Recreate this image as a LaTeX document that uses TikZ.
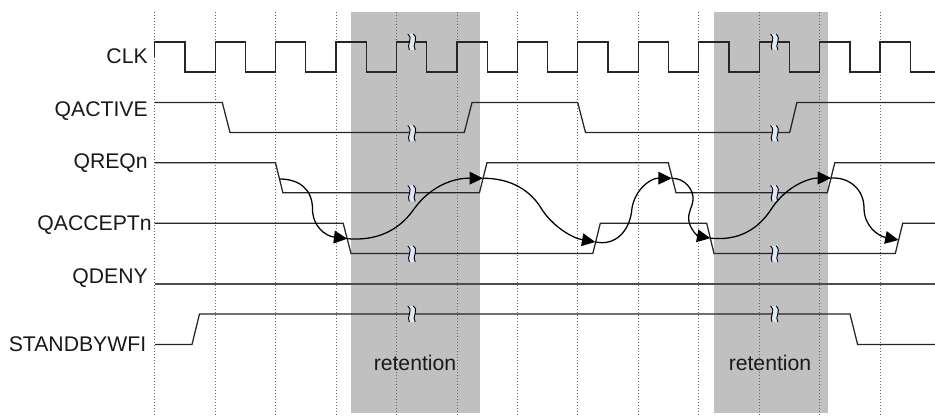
\documentclass[tikz,border=0pt]{standalone}
\usepackage{fontspec}
\setmainfont{Liberation Sans}
\usetikzlibrary{arrows.meta}
\definecolor{shadegray}{RGB}{192,192,192}
\definecolor{gapfill}{RGB}{222,233,247}
\tikzset{
 x=0.75pt,y=-0.75pt,
 wave/.style={draw=black!85,line width=0.95pt,line join=miter},
 deny/.style={draw=black!70,line width=1.4pt},
 gridline/.style={draw=black!60,line width=0.6pt,dash pattern=on 0.75pt off 1.5pt},
 handshake/.style={draw=black,line width=0.95pt,-{Triangle[length=10pt,width=9.5pt]}},
 siglabel/.style={anchor=base east,inner sep=0pt,text=black!90,font=\fontsize{15.9pt}{18pt}\selectfont},
 retlabel/.style={anchor=base,inner sep=0pt,text=black!90,font=\fontsize{15.9pt}{18pt}\selectfont},
}
\newcommand{\gapmark}[2]{%
 \fill[gapfill] (#1-4,#2-8) .. controls (#1+2,#2-3) and (#1-6,#2+3) .. (#1-2.4,#2+8) -- (#1+3.4,#2+8) .. controls (#1-0.5,#2+3) and (#1+7.5,#2-3) .. (#1+1.6,#2-8) -- cycle;
 \draw[black,line width=0.7pt] (#1-4,#2-8) .. controls (#1+2,#2-3) and (#1-6,#2+3) .. (#1-2.4,#2+8);
 \draw[black,line width=0.7pt] (#1+1.6,#2-8) .. controls (#1+7.5,#2-3) and (#1-0.5,#2+3) .. (#1+3.4,#2+8);
}
\begin{document}
\begin{tikzpicture}
\useasboundingbox (0,0) rectangle (935,417);
\fill[shadegray] (351,12) rectangle (480,412.7);
\fill[shadegray] (714,12) rectangle (827.7,412.7);
\foreach \k in {0,...,12} \draw[gridline] (154.7+60.45*\k,12) -- (154.7+60.45*\k,417);
% CLK
\draw[wave] (154.7,57)
 \foreach \k in {0,...,12} { -- (154.7+60.45*\k,42) -- (184.93+60.45*\k,42) -- (184.93+60.45*\k,72) -- (215.15+60.45*\k,72) } -- (935,72);
\draw[wave] (154.7,102.5) -- (222.3,102.5) -- (230,132.5) -- (464.3,132.5) -- (472,102.5) -- (577.7,102.5) -- (585.5,132.5) -- (789.7,132.5) -- (796.9,102.5) -- (935,102.5);
\draw[wave] (154.7,162.8) -- (275.5,162.8) -- (282.9,192.8) -- (479.4,192.8) -- (486.9,162.8) -- (668.3,162.8) -- (676,192.8) -- (827.3,192.8) -- (834.8,162.8) -- (935,162.8);
\draw[wave] (154.7,223.3) -- (343.2,223.3) -- (351,253.5) -- (592.8,253.5) -- (600.3,223.3) -- (706.7,223.3) -- (714,253.5) -- (895.3,253.5) -- (902.7,223.3) -- (935,223.3);
\draw[deny] (154.7,284) -- (935,284);
\draw[wave] (155,344.5) -- (192,344.5) -- (199.5,314) -- (850,314) -- (857.6,344.5) -- (935,344.5);
% labels
\node[siglabel] (lclk) at (148,63.5) {CLK};
\node[siglabel] (lqa) at (148,117) {QACTIVE};
\node[siglabel] (lqr) at (148,169) {QREQn};
\node[siglabel] (lqc) at (152,230) {QACCEPTn};
\node[siglabel] (lqd) at (148,283) {QDENY};
\node[siglabel] (lsb) at (146.5,351) {STANDBYWFI};
\node[retlabel] (t1) at (415,370) {retention};
\node[retlabel] (t2) at (770,370) {retention};
% gaps
\foreach \x in {411.8,774.5} {
 \gapmark{\x}{42}
 \gapmark{\x}{133.5}
 \gapmark{\x}{193.5}
 \gapmark{\x}{254}
 \gapmark{\x}{314}
}
% handshake
\coordinate (a1) at (279.5,179);
\coordinate (a2) at (347.3,238.7);
\coordinate (a3) at (482.9,178.3);
\coordinate (a4) at (595.3,242);
\coordinate (a5) at (671.7,178.3);
\coordinate (a6) at (710.3,238.2);
\coordinate (a7) at (831,178);
\coordinate (a8) at (898.5,240);
\draw[handshake] (a1) .. controls (300,179) and (312.5,190) .. (312.5,209) .. controls (312.5,226) and (325,236) .. (a2);
\draw[handshake] (a2) .. controls (375,241) and (398,232) .. (414,209) .. controls (430,187) and (452,178) .. (a3);
\draw[handshake] (a3) .. controls (510,178) and (530,190) .. (541,208) .. controls (552,226) and (572,238) .. (a4);
\draw[handshake] (a4) .. controls (615,246) and (630,232) .. (632,208) .. controls (635,190) and (650,178) .. (a5);
\draw[handshake] (a5) .. controls (685,178) and (694,190) .. (693,200) .. controls (692,208) and (688,212) .. (688.7,220) .. controls (690,230) and (698,236) .. (a6);
\draw[handshake] (a6) .. controls (738,241) and (758,230) .. (772,208) .. controls (786,187) and (808,178) .. (a7);
\draw[handshake] (a7) .. controls (850,177) and (864,190) .. (864,208) .. controls (864,226) and (878,236) .. (a8);
\end{tikzpicture}
\end{document}
